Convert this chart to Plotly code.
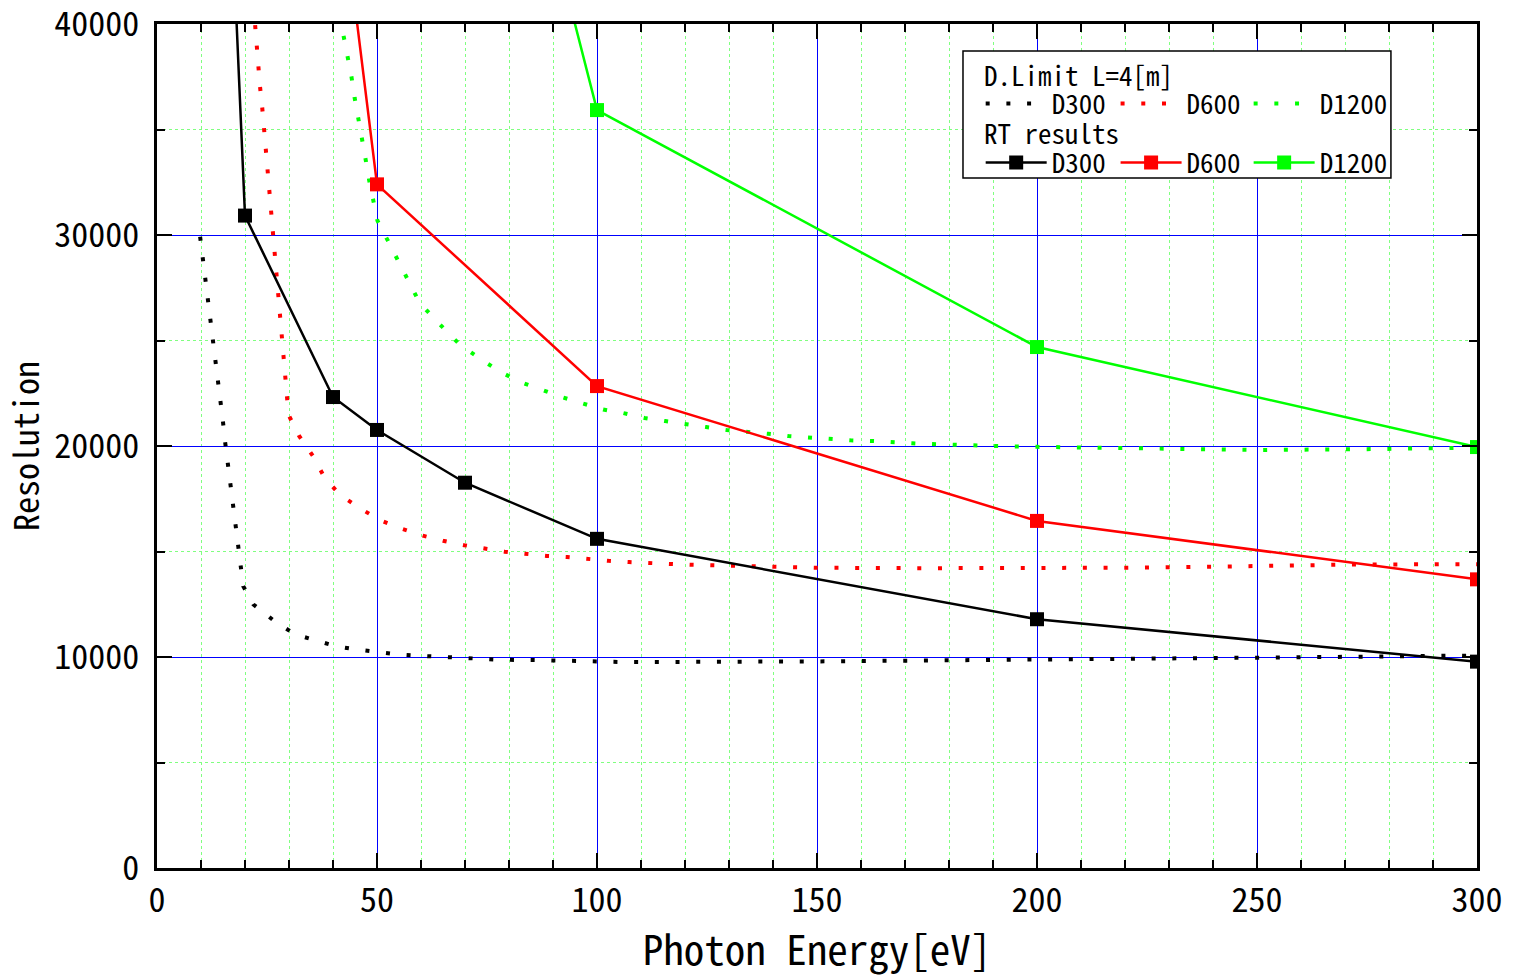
import plotly.graph_objects as go

# ---------------- data ----------------
# Diffraction limit, L = 4 m
dl300_x = [9.8, 10.4, 11.0, 11.6, 12.1, 12.7, 13.2, 13.9, 14.4, 15.0, 15.5, 16.1, 16.7, 17.3,
           17.9, 18.4, 19.0, 19.6, 21.9, 26.7, 31.4, 36.1, 40.8, 45.3, 50.1, 54.8, 59.4, 64.2,
           68.9, 73.5, 78.1, 87.5, 96.8, 106, 150, 195, 200, 251, 293, 300]
dl300_y = [29920, 28940, 27970, 27030, 26000, 25020, 24070, 23090, 22110, 21140, 20160, 19190,
           18210, 17250, 16260, 15290, 14340, 13360, 12490, 11700, 11070, 10790, 10500, 10360,
           10220, 10120, 10060, 10010, 9950, 9920, 9870, 9850, 9790, 9760, 9790, 9840, 9880,
           9970, 10060, 10070]

dl600_x = [22.3, 22.6, 23.1, 23.4, 23.9, 24.3, 24.7, 25.0, 25.5, 25.8, 26.3, 26.7, 27.0, 27.3,
           27.7, 28.2, 28.6, 29.1, 29.4, 29.9, 32.3, 35.5, 38.0, 41.6, 46.4, 51.1, 55.7, 60.4,
           65.0, 69.8, 79.0, 83.9, 88.6, 93.2, 97.9, 102.6, 107.3, 112.0, 116.6, 121.3, 126.0,
           130.6, 135.3, 140.0, 144.6, 149.3, 175, 200, 219.6, 250, 271, 300]
dl600_y = [39950, 39000, 38020, 37060, 36070, 35100, 34140, 33160, 32180, 31200, 30240, 29260,
           28280, 27300, 26340, 25360, 24370, 23410, 22450, 21470, 20480, 19510, 18530, 17680,
           17010, 16450, 16070, 15750, 15510, 15300, 14990, 14880, 14790, 14740, 14640, 14560,
           14500, 14440, 14410, 14370, 14340, 14310, 14290, 14270, 14250, 14230, 14210, 14220,
           14230, 14310, 14380, 14400]

dl1200_x = [42.4, 43.3, 44.2, 44.9, 45.8, 46.6, 47.4, 48.2, 49.2, 50.1, 52.5, 54.9, 57.3, 59.7,
            64.1, 68.7, 73.4, 78.0, 82.6, 87.3, 92.0, 96.7, 101.4, 106.0, 110.8, 115.5, 120.1,
            124.8, 129.4, 134.2, 138.9, 143.5, 148.2, 152.9, 157.6, 162.3, 167.0, 171.6, 176.3,
            181.0, 185.6, 190.3, 200, 225, 250, 275, 300]
dl1200_y = [39440, 38480, 37500, 36520, 35540, 34580, 33600, 32610, 31660, 30680, 29720, 28720,
            27740, 26780, 25800, 24830, 24140, 23520, 23030, 22650, 22320, 22020, 21730, 21560,
            21330, 21180, 21020, 20900, 20760, 20690, 20580, 20470, 20390, 20330, 20270, 20240,
            20170, 20130, 20090, 20050, 20030, 20000, 19960, 19880, 19810, 19850, 19920]

# Ray-tracing results (first point of each series lies above the plotted range)
rt300_x = [10, 20, 40, 50, 70, 100, 200, 300]
rt300_y = [78700, 30920, 22320, 20760, 18260, 15600, 11790, 9780]
rt600_x = [40, 50, 100, 200, 300]
rt600_y = [49300, 32400, 22840, 16450, 13680]
rt1200_x = [50, 100, 200, 300]
rt1200_y = [76700, 35920, 24690, 19950]

series_names = ["D300", "D600", "D1200"]
series_colors = ["#000000", "#ff0000", "#00ff00"]
legend_titles = ["D.Limit L=4[m]", "RT results"]

# tick positions
x_major = [0, 50, 100, 150, 200, 250, 300]
x_minor = [10, 20, 30, 40, 60, 70, 80, 90, 110, 120, 130, 140, 160, 170, 180, 190,
           210, 220, 230, 240, 260, 270, 280, 290]
y_major = [0, 10000, 20000, 30000, 40000]
y_minor = [5000, 15000, 25000, 35000]

FONT = "Noto Sans Mono CJK JP, Noto Sans CJK JP, DejaVu Sans Mono, monospace"

# legend layout (paper coordinates): one legend per entry, three per row
leg_cols = [0.624, 0.7262, 0.8270]
leg_rows = [0.9052, 0.8353]

fig = go.Figure()

for i, (name, xs, ys, col) in enumerate(zip(series_names, [dl300_x, dl600_x, dl1200_x],
                                            [dl300_y, dl600_y, dl1200_y], series_colors)):
    fig.add_trace(go.Scatter(
        x=xs, y=ys, mode="lines", name=name,
        legend="legend" if i == 0 else f"legend{i + 1}",
        line=dict(color=col, width=4, dash="4px,16.7px"),
    ))

for i, (name, xs, ys, col) in enumerate(zip(series_names, [rt300_x, rt600_x, rt1200_x],
                                            [rt300_y, rt600_y, rt1200_y], series_colors)):
    fig.add_trace(go.Scatter(
        x=xs, y=ys, mode="lines+markers", name=name, legend=f"legend{i + 4}",
        line=dict(color=col, width=2.5),
        marker=dict(symbol="square", size=14, color=col, line=dict(width=0)),
    ))

axis_common = dict(
    showline=True, linecolor="black", linewidth=3, mirror="ticks",
    ticks="inside", ticklen=15, tickwidth=2, tickcolor="black",
    showgrid=True, gridcolor="#0000ff", gridwidth=1,
    zeroline=False, tickmode="array", automargin=False,
    ticklabeloverflow="allow",
    tickfont=dict(family=FONT, size=34, color="black"),
)
minor_common = dict(ticks="inside", ticklen=8, tickwidth=2, tickcolor="black",
                    showgrid=True, gridcolor="#80ff80", griddash="dot", gridwidth=1)

fig.update_xaxes(
    range=[0, 300], tickvals=x_major, ticktext=[str(v) for v in x_major],
    minor=dict(tickvals=x_minor, **minor_common),
    title=dict(text="Photon Energy[eV]", font=dict(family=FONT, size=41, color="black"),
               standoff=22),
    **axis_common,
)
fig.update_yaxes(
    range=[0, 40000], tickvals=y_major, ticktext=[str(v) for v in y_major],
    minor=dict(tickvals=y_minor, **minor_common),
    title=dict(text="Resolution", font=dict(family=FONT, size=34, color="black"),
               standoff=6),
    ticklabelstandoff=8,
    **axis_common,
)

legend_common = dict(
    orientation="h", xanchor="left", yanchor="middle",
    bgcolor="rgba(0,0,0,0)", borderwidth=0,
    font=dict(family=FONT, size=27, color="black"),
    itemwidth=61, traceorder="normal",
)

legends = {}
for r, yv in enumerate(leg_rows):
    for c, xv in enumerate(leg_cols):
        k = r * 3 + c
        key = "legend" if k == 0 else f"legend{k + 1}"
        legends[key] = dict(x=xv, y=yv, **legend_common)

fig.update_layout(
    width=1515, height=977,
    margin=dict(l=157, r=38, t=24, b=109, autoexpand=False),
    plot_bgcolor="white", paper_bgcolor="white",
    showlegend=True,
    shapes=[dict(type="rect", xref="paper", yref="paper",
                 x0=0.6106, x1=0.9348, y0=0.8175, y1=0.968,
                 line=dict(color="black", width=1.5), fillcolor="white", layer="above")],
    annotations=[
        dict(text=legend_titles[0], xref="paper", yref="paper", x=0.625, y=0.9396,
             xanchor="left", yanchor="middle", showarrow=False,
             font=dict(family=FONT, size=27, color="black")),
        dict(text=legend_titles[1], xref="paper", yref="paper", x=0.625, y=0.8709,
             xanchor="left", yanchor="middle", showarrow=False,
             font=dict(family=FONT, size=27, color="black")),
    ],
    **legends,
)

fig.write_html("out.html")
